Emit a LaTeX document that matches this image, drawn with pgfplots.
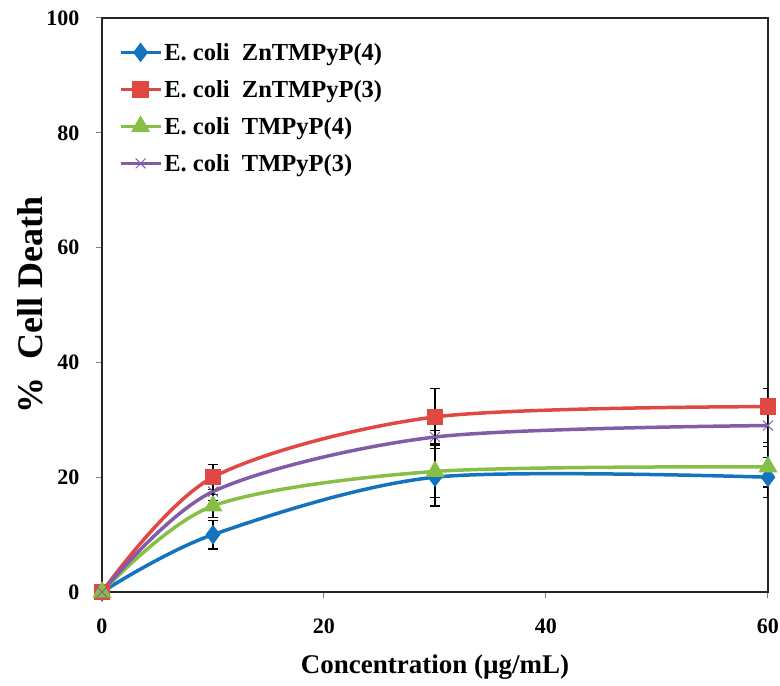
\documentclass[border=0pt]{standalone}
\usepackage{pgfplots}
\pgfplotsset{compat=1.18}
\usepackage{fontspec}
\setmainfont{Liberation Serif}
\definecolor{cblue}{RGB}{20,115,190}
\definecolor{cred}{RGB}{224,72,68}
\definecolor{cgreen}{RGB}{134,190,70}
\definecolor{cpurple}{RGB}{130,92,168}
\begin{document}
\begin{tikzpicture}
\begin{axis}[
  at={(0,0)}, anchor=south west,
  scale only axis,
  width=666pt, height=574pt,
  xmin=0, xmax=60, ymin=0, ymax=100,
  xtick={0,20,40,60}, ytick={0,20,40,60,80,100},
  xtick pos=left, ytick pos=left,
  tick align=outside,
  major tick length=6pt,
  tick style={black!50, line width=1pt},
  axis line style={black!85, line width=1.4pt},
  /pgf/number format/assume math mode=true,
  ticklabel style={font=\fontsize{22}{26}\selectfont\bfseries},
  yticklabel style={xshift=-13pt},
  xticklabel style={yshift=-17pt},
  xlabel={Concentration (µg/mL)},
  ylabel={\%\ \ Cell Death},
  xlabel style={font=\fontsize{27}{30}\selectfont\bfseries, at={(axis description cs:0.5,-0.13)}, anchor=center},
  ylabel style={font=\fontsize{36}{40}\selectfont\bfseries, at={(axis description cs:-0.108,0.5)}, anchor=center},
  legend style={draw=none, fill=none, at={(axis description cs:0.025,0.96)}, anchor=north west,
    font=\fontsize{24.5}{28}\selectfont\bfseries, row sep=14.5pt, inner sep=0pt,
    nodes={inner xsep=2pt}},
  legend cell align=left,
  legend image code/.code={
    \draw[#1, line width=3.5pt] (0pt,0pt) -- (40pt,0pt);
    \draw[#1, mark repeat=2, mark phase=2] plot coordinates {(0pt,0pt) (20pt,0pt) (40pt,0pt)};
  },
  error bars/y dir=both, error bars/y explicit,
  error bars/error bar style={black, line width=1.2pt},
  error bars/error mark options={black, rotate=90, mark size=5pt, line width=1.2pt},
]
\addplot[cblue, line width=3.5pt, smooth, tension=0.5, mark=diamond*, mark size=7pt, mark options={solid}]
  coordinates {(0,0) +- (0,0) (10,10) +- (0,2.5) (30,20) +- (0,5) (60,20) +- (0,3.5)};
\addlegendentry{E. coli\ \ ZnTMPyP(4)}
\addplot[cred, line width=3.5pt, smooth, tension=0.5, mark=square*, mark size=6.5pt]
  coordinates {(0,0) +- (0,0) (10,20) +- (0,2.2) (30,30.5) +- (0,4.9) (60,32.3) +- (0,3.2)};
\addlegendentry{E. coli\ \ ZnTMPyP(3)}
\addplot[cgreen, line width=3.5pt, smooth, tension=0.5, mark=triangle*, mark size=7.5pt]
  coordinates {(0,0) +- (0,0) (10,15) +- (0,2) (30,21) +- (0,4.5) (60,21.8) +- (0,3.5)};
\addlegendentry{E. coli\ \ TMPyP(4)}
\addplot[cpurple, line width=3.5pt, smooth, tension=0.5, mark=x, mark size=7pt, mark options={line width=1pt}]
  coordinates {(0,0) +- (0,0) (10,17.5) +- (0,1.5) (30,27) +- (0,1.2) (60,29) +- (0,3)};
\addlegendentry{E. coli\ \ TMPyP(3)}
\end{axis}
\pgfresetboundingbox
\useasboundingbox (-102pt,-94pt) rectangle (678pt,592pt);
\end{tikzpicture}
\end{document}
